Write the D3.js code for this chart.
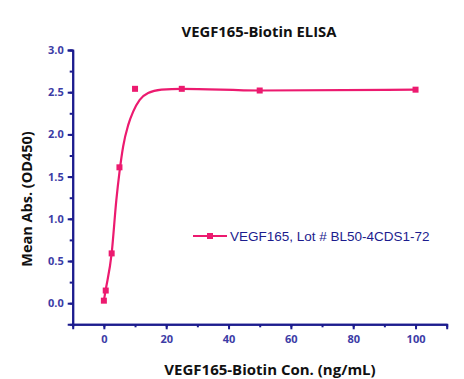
<!DOCTYPE html>
<html><head><meta charset="utf-8">
<script src="https://cdn.jsdelivr.net/npm/d3@7"></script>
<style>body{margin:0;background:#fff}svg{display:block}</style>
</head><body>
<script>
const concentrations = [0, 0.6, 2.5, 5, 10, 25, 50, 100];
const absorbance = [0.03, 0.15, 0.59, 1.61, 2.54, 2.54, 2.52, 2.53];
// fitted curve
const fitX = [0, 0.55, 2.5, 4, 5, 6.2, 7.8, 9.4, 11.5, 14.2, 18.5, 25, 50, 100];
const fitY = [0.03, 0.15, 0.59, 1.22, 1.55, 1.86, 2.11, 2.27, 2.41, 2.49, 2.53, 2.54, 2.52, 2.53];
const xTicks = [0, 20, 40, 60, 80, 100];
const yTicks = [0.0, 0.5, 1.0, 1.5, 2.0, 2.5, 3.0];
const seriesName = "VEGF165, Lot # BL50-4CDS1-72";

const W = 464, H = 379;
const pink = "#ec1a6f", navy = "#1c1c8e", tickCol = "#3c3ca6";
const svg = d3.select("body").append("svg").attr("width", W).attr("height", H);

const x = d3.scaleLinear().domain([-10, 110]).range([72.7, 446.7]);
const y = d3.scaleLinear().domain([-0.25, 3.0]).range([324.3, 50]);

// x axis
const gx = svg.append("g").attr("transform", `translate(0,${y(-0.25)})`);
gx.call(d3.axisBottom(x).tickValues(d3.range(-10, 111, 10)).tickFormat("").tickSize(3).tickSizeOuter(0));
gx.append("g").call(d3.axisBottom(x).tickValues(xTicks).tickFormat(d3.format("d")).tickSize(5).tickPadding(6));
gx.selectAll("path,line").attr("stroke", navy).attr("stroke-width", 2);
gx.selectAll("text").attr("fill", tickCol).attr("font-family", "Open Sans, sans-serif")
  .attr("font-weight", "bold").attr("font-size", 11);

// y axis
const gy = svg.append("g").attr("transform", `translate(${x(-10)},0)`);
gy.call(d3.axisLeft(y).tickValues(d3.range(-0.25, 3.01, 0.25)).tickFormat("").tickSize(3).tickSizeOuter(0));
gy.append("g").call(d3.axisLeft(y).tickValues(yTicks).tickFormat(d3.format(".1f")).tickSize(5).tickPadding(4));
gy.selectAll("path,line").attr("stroke", navy).attr("stroke-width", 2);
gy.selectAll("text").attr("fill", tickCol).attr("font-family", "Open Sans, sans-serif")
  .attr("font-weight", "bold").attr("font-size", 11);

// fitted curve
const fit = fitX.map((v, i) => [v, fitY[i]]);
svg.append("path").datum(fit)
  .attr("d", d3.line().x(d => x(d[0])).y(d => y(d[1])).curve(d3.curveMonotoneX))
  .attr("fill", "none").attr("stroke", pink).attr("stroke-width", 2.2);

// points
const pts = concentrations.map((v, i) => [v, absorbance[i]]);
svg.append("g").selectAll("rect").data(pts).join("rect")
  .attr("x", d => x(d[0]) - 3).attr("y", d => y(d[1]) - 3)
  .attr("width", 6).attr("height", 6).attr("fill", pink);

// legend
const lg = svg.append("g").attr("transform", "translate(193,236)");
lg.append("line").attr("x1", 0).attr("x2", 34).attr("stroke", pink).attr("stroke-width", 2.2);
lg.append("rect").attr("x", 14).attr("y", -3).attr("width", 6).attr("height", 6).attr("fill", pink);
lg.append("text").attr("x", 37).attr("y", 5).text(seriesName)
  .attr("font-family", "Liberation Sans, Arial, sans-serif").attr("font-size", 13.5).attr("fill", navy);

// title and axis labels
svg.append("text").attr("x", 259).attr("y", 37).attr("text-anchor", "middle")
  .attr("font-family", "Open Sans, sans-serif").attr("font-weight", "bold").attr("font-size", 14.8)
  .attr("fill", "#111").text("VEGF165-Biotin ELISA");
svg.append("text").attr("x", 270).attr("y", 375).attr("text-anchor", "middle")
  .attr("font-family", "Open Sans, sans-serif").attr("font-weight", "bold").attr("font-size", 15)
  .attr("fill", "#111").text("VEGF165-Biotin Con. (ng/mL)");
svg.append("text").attr("transform", "translate(32,199) rotate(-90)").attr("text-anchor", "middle")
  .attr("font-family", "Open Sans, sans-serif").attr("font-weight", "bold").attr("font-size", 14.5)
  .attr("fill", "#111").text("Mean Abs. (OD450)");
</script>
</body></html>
